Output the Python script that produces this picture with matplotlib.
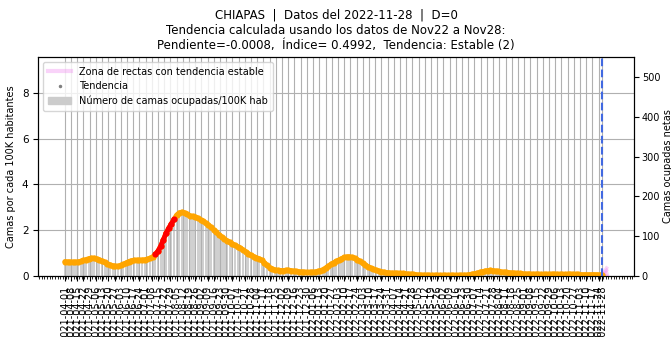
import numpy as np
import pandas as pd
import matplotlib
matplotlib.use("Agg")
import matplotlib.pyplot as plt
import matplotlib.dates as mdates
from matplotlib.lines import Line2D
from matplotlib.patches import Patch

estado = "CHIAPAS"
fecha_datos = "2022-11-28"
pendiente = -0.0008
indice = 0.4992
tendencia_txt = "Estable (2)"
hab_100k = 57.5  # poblacion / 100K

# one sample every 3 days, 2021-04-01 .. 2022-11-28
fechas = pd.date_range("2021-04-01", "2022-11-28", freq="3D")

camas_100k = [
    0.60, 0.64, 0.59, 0.63, 0.60, 0.63, 0.62, 0.70, 0.71, 0.78,
    0.76, 0.80, 0.73, 0.72, 0.64, 0.61, 0.52, 0.50, 0.44, 0.42,
    0.44, 0.45, 0.53, 0.56, 0.65, 0.66, 0.70, 0.68, 0.70, 0.69,
    0.72, 0.72, 0.79, 0.83, 0.97, 1.10, 1.33, 1.60, 1.90, 2.10,
    2.31, 2.50, 2.70, 2.80, 2.85, 2.80, 2.72, 2.66, 2.64, 2.60,
    2.55, 2.44, 2.40, 2.29, 2.20, 2.10, 1.98, 1.88, 1.78, 1.68,
    1.60, 1.52, 1.45, 1.38, 1.32, 1.26, 1.20, 1.12, 1.04, 0.96,
    0.89, 0.83, 0.79, 0.74, 0.66, 0.55, 0.44, 0.35, 0.30, 0.26,
    0.24, 0.25, 0.23, 0.26, 0.24, 0.23, 0.21, 0.19, 0.18, 0.17,
    0.16, 0.15, 0.16, 0.17, 0.19, 0.21, 0.25, 0.30, 0.37, 0.46,
    0.54, 0.61, 0.67, 0.73, 0.79, 0.84, 0.86, 0.85, 0.81, 0.75,
    0.68, 0.61, 0.53, 0.45, 0.39, 0.33, 0.28, 0.24, 0.21, 0.18,
    0.16, 0.14, 0.14, 0.13, 0.12, 0.12, 0.11, 0.10, 0.09, 0.08,
    0.07, 0.06, 0.05, 0.05, 0.04, 0.04, 0.03, 0.03, 0.03, 0.03,
    0.03, 0.03, 0.02, 0.03, 0.03, 0.02, 0.03, 0.03, 0.03, 0.04,
    0.04, 0.05, 0.07, 0.09, 0.12, 0.15, 0.18, 0.21, 0.24, 0.25,
    0.25, 0.23, 0.21, 0.19, 0.17, 0.16, 0.15, 0.14, 0.13, 0.12,
    0.11, 0.10, 0.09, 0.09, 0.08, 0.08, 0.08, 0.07, 0.07, 0.07,
    0.07, 0.07, 0.08, 0.08, 0.08, 0.07, 0.07, 0.07, 0.08, 0.08,
    0.08, 0.07, 0.07, 0.06, 0.06, 0.06, 0.06, 0.06, 0.05, 0.05,
    0.05, 0.05, 0.05,
]

tendencia = [
    0.63, 0.62, 0.61, 0.61, 0.61, 0.62, 0.64, 0.68, 0.72, 0.76,
    0.78, 0.78, 0.75, 0.71, 0.66, 0.60, 0.54, 0.49, 0.45, 0.43,
    0.43, 0.46, 0.51, 0.57, 0.63, 0.67, 0.69, 0.69, 0.69, 0.70,
    0.71, 0.73, 0.77, 0.84, 0.94, 1.08, 1.30, 1.57, 1.86, 2.08,
    2.27, 2.47, 2.66, 2.76, 2.79, 2.76, 2.69, 2.63, 2.61, 2.58,
    2.53, 2.46, 2.39, 2.31, 2.22, 2.12, 2.01, 1.90, 1.80, 1.70,
    1.62, 1.54, 1.47, 1.40, 1.34, 1.28, 1.22, 1.14, 1.06, 0.98,
    0.91, 0.85, 0.80, 0.76, 0.69, 0.58, 0.46, 0.37, 0.31, 0.27,
    0.25, 0.24, 0.24, 0.25, 0.25, 0.24, 0.22, 0.20, 0.19, 0.18,
    0.17, 0.16, 0.16, 0.17, 0.18, 0.20, 0.23, 0.28, 0.35, 0.43,
    0.51, 0.58, 0.64, 0.70, 0.76, 0.81, 0.84, 0.84, 0.82, 0.77,
    0.71, 0.64, 0.56, 0.48, 0.41, 0.35, 0.30, 0.26, 0.22, 0.19,
    0.17, 0.15, 0.14, 0.13, 0.13, 0.12, 0.12, 0.11, 0.10, 0.09,
    0.08, 0.07, 0.06, 0.05, 0.04, 0.04, 0.04, 0.03, 0.03, 0.03,
    0.03, 0.03, 0.03, 0.03, 0.03, 0.03, 0.03, 0.03, 0.03, 0.03,
    0.04, 0.04, 0.06, 0.08, 0.10, 0.13, 0.16, 0.19, 0.22, 0.24,
    0.25, 0.24, 0.22, 0.20, 0.18, 0.17, 0.16, 0.15, 0.14, 0.13,
    0.12, 0.11, 0.10, 0.09, 0.09, 0.08, 0.08, 0.08, 0.08, 0.07,
    0.07, 0.07, 0.08, 0.08, 0.08, 0.08, 0.07, 0.07, 0.07, 0.08,
    0.08, 0.08, 0.07, 0.07, 0.06, 0.06, 0.06, 0.06, 0.06, 0.06,
    0.06, 0.05, 0.05,
]

# tramo con tendencia al alza (marcado en rojo)
alza_ini, alza_fin = "2021-07-11", "2021-08-04"

# pendientes de las rectas de la zona estable (por dia)
pendientes_zona = [-0.01, 0.0, 0.02, 0.04, 0.06]
dias_zona = 5

fig, ax = plt.subplots(figsize=(6.71, 3.37), dpi=100)
fig.subplots_adjust(left=0.057, right=0.945, top=0.831, bottom=0.181)

ax.bar(fechas, camas_100k, width=2.4, color="#d0d0d0", zorder=1)

tend = pd.Series(tendencia, index=fechas)
alza = (tend.index >= alza_ini) & (tend.index <= alza_fin)
ax.plot(tend.index, tend.values, color="orange", lw=3.5, zorder=3, solid_capstyle="round")
ax.scatter(tend.index, tend.values, s=20, color="orange", zorder=3, linewidths=0)
ax.plot(tend.index[alza], tend[alza], color="red", lw=3.5, zorder=3, solid_capstyle="round")
ax.scatter(tend.index[alza], tend[alza], s=20, color="red", zorder=3, linewidths=0)

# zona de rectas al final
t0 = fechas[-1]
y0 = tendencia[-1]
for p in pendientes_zona:
    xs = [t0, t0 + pd.Timedelta(days=dias_zona)]
    ax.plot(xs, [y0, y0 + p * dias_zona], color="violet", alpha=0.35, lw=2.5, zorder=2)

ax.axvline(t0, color="royalblue", ls="--", lw=1.5, zorder=4)

ax.set_xlim(pd.Timestamp("2021-03-02"), pd.Timestamp("2023-01-03"))
ax.set_ylim(0, 550 / hab_100k)
ax.set_yticks([0, 2, 4, 6, 8])

ticks = list(pd.date_range("2021-04-01", "2022-11-28", freq="7D")) + [t0]
ax.set_xticks(ticks)
ax.set_xticklabels([t.strftime("%Y-%m-%d") for t in ticks], rotation=90, fontsize=7)
ax.xaxis.set_minor_locator(mdates.DayLocator(interval=3))
ax.tick_params(axis="x", which="minor", length=2)
ax.tick_params(axis="y", labelsize=7.5)
ax.grid(True, color="#b0b0b0", lw=0.8)
ax.set_ylabel("Camas por cada 100K habitantes", fontsize=7)

ax2 = ax.twinx()
ax2.set_ylim(0, 550)
ax2.set_yticks([0, 100, 200, 300, 400, 500])
ax2.tick_params(axis="y", labelsize=7, pad=2)
ax2.set_ylabel("Camas ocupadas netas", fontsize=7, labelpad=2)

handles = [
    Line2D([], [], color="violet", alpha=0.35, lw=3),
    Line2D([], [], ls="none", marker="o", ms=1.5, color="gray"),
    Patch(color="#cccccc"),
]
labels = [
    "Zona de rectas con tendencia estable",
    "Tendencia",
    "Número de camas ocupadas/100K hab",
]
ax.legend(handles, labels, loc="upper left", fontsize=7, handlelength=2.4,
          borderpad=0.5, labelspacing=0.45, framealpha=0.8)

ax.set_title(
    f"{estado}  |  Datos del {fecha_datos}  |  D=0\n"
    f"Tendencia calculada usando los datos de Nov22 a Nov28:\n"
    f"Pendiente={pendiente},  Índice= {indice},  Tendencia: {tendencia_txt}",
    fontsize=8.5,
)

fig.savefig("out.png", dpi=100)
